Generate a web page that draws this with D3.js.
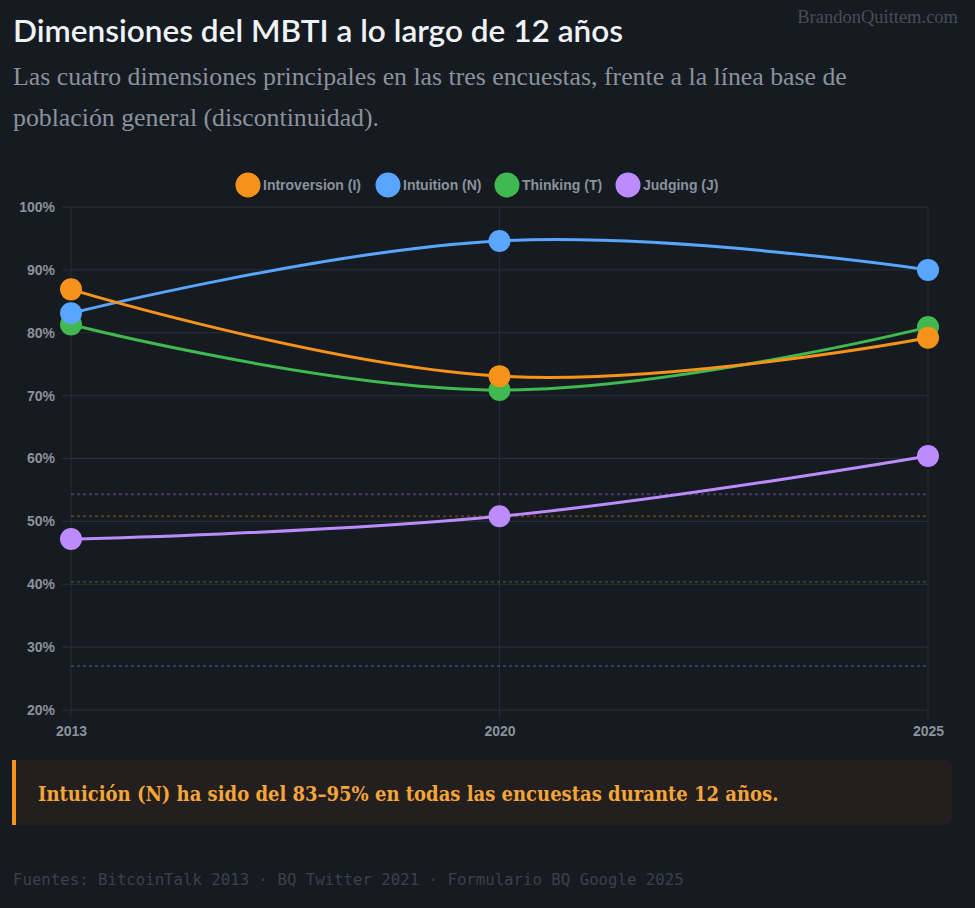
<!DOCTYPE html>
<html>
<head>
<meta charset="utf-8">
<script src="https://cdn.jsdelivr.net/npm/d3@7"></script>
<style>
  body { margin: 0; background: #161a21; }
  svg { display: block; }
</style>
</head>
<body>
<div class="chart"></div>
<script>
// categories and values
var years = ["2013", "2020", "2025"];
var seriesNames = ["Introversion (I)", "Intuition (N)", "Thinking (T)", "Judging (J)"];
var seriesColors = ["#f7931a", "#58a6ff", "#3fb950", "#bc8cff"];
var introversion = [86.9, 73.1, 79.2];
var intuition = [83.1, 94.6, 90.0];
var thinking = [81.3, 70.9, 80.9];
var judging = [47.2, 50.8, 60.4];
// general population baselines (dotted lines)
var baselines = [50.8, 27.0, 40.4, 54.3];
var yTicks = [20, 30, 40, 50, 60, 70, 80, 90, 100];

var allSeries = [introversion, intuition, thinking, judging];

var svgWidth = 975;
var svgHeight = 908;
var margin = { top: 207, left: 71, right: 47, bottom: 198 };
var width = svgWidth - margin.left - margin.right;
var height = svgHeight - margin.top - margin.bottom;

var svg = d3.select(".chart")
  .append("svg")
  .attr("width", svgWidth)
  .attr("height", svgHeight);

svg.append("rect")
  .attr("width", svgWidth)
  .attr("height", svgHeight)
  .attr("fill", "#161a21");

// header
svg.append("text")
  .attr("x", 13)
  .attr("y", 42)
  .attr("fill", "#f0f3f6")
  .attr("textLength", 610)
  .attr("lengthAdjust", "spacingAndGlyphs")
  .style("font-family", "Lato, 'Noto Sans', sans-serif")
  .style("font-weight", "600")
  .style("font-size", "30px")
  .text("Dimensiones del MBTI a lo largo de 12 años");

svg.append("text")
  .attr("x", 958)
  .attr("y", 23)
  .attr("text-anchor", "end")
  .attr("fill", "#474d56")
  .style("font-family", "'Liberation Serif', serif")
  .style("font-size", "18.5px")
  .text("BrandonQuittem.com");

var subLines = [
  "Las cuatro dimensiones principales en las tres encuestas, frente a la línea base de",
  "población general (discontinuidad)."
];
svg.selectAll(".sub")
  .data(subLines)
  .enter()
  .append("text")
  .attr("class", "sub")
  .attr("x", 13)
  .attr("y", (d, i) => 85 + i * 41)
  .attr("fill", "#8b929b")
  .style("font-family", "'Liberation Serif', serif")
  .style("font-size", "25.8px")
  .text(d => d);

var chartGroup = svg.append("g")
  .attr("transform", `translate(${margin.left}, ${margin.top})`);

// scales
var xScale = d3.scalePoint()
  .domain(years)
  .range([0, width]);

var yScale = d3.scaleLinear()
  .domain([20, 100])
  .range([height, 0]);

// grid
chartGroup.append("g")
  .selectAll("line")
  .data(yTicks)
  .enter()
  .append("line")
  .attr("x1", -9)
  .attr("x2", width)
  .attr("y1", d => yScale(d))
  .attr("y2", d => yScale(d))
  .attr("stroke", "#2b3038")
  .attr("stroke-width", 1);

chartGroup.append("g")
  .selectAll("line")
  .data(years)
  .enter()
  .append("line")
  .attr("x1", d => xScale(d))
  .attr("x2", d => xScale(d))
  .attr("y1", 0)
  .attr("y2", height + 8)
  .attr("stroke", "#262b33")
  .attr("stroke-width", 1);

// axes (labels only)
var yAxis = d3.axisLeft(yScale)
  .tickValues(yTicks)
  .tickFormat(d => d + "%")
  .tickSize(0)
  .tickPadding(16);

var xAxis = d3.axisBottom(xScale)
  .tickSize(0)
  .tickPadding(16);

chartGroup.append("g").call(yAxis)
  .call(g => g.select(".domain").remove());
chartGroup.append("g")
  .attr("transform", `translate(0, ${height})`)
  .call(xAxis)
  .call(g => g.select(".domain").remove());

chartGroup.selectAll(".tick text")
  .attr("fill", "#8b929b")
  .style("font-family", "'Liberation Sans', Arial, sans-serif")
  .style("font-weight", "700")
  .style("font-size", "14px");

// baselines
chartGroup.append("g")
  .selectAll("line")
  .data(baselines)
  .enter()
  .append("line")
  .attr("x1", 0)
  .attr("x2", width)
  .attr("y1", d => yScale(d))
  .attr("y2", d => yScale(d))
  .attr("stroke", (d, i) => seriesColors[i])
  .attr("stroke-opacity", 0.3)
  .attr("stroke-width", 2)
  .attr("stroke-dasharray", "3,3");

// lines and points, drawn so the first series ends up on top
var line = d3.line()
  .x((d, i) => xScale(years[i]))
  .y(d => yScale(d))
  .curve(d3.curveCardinal.tension(-0.2));

var order = d3.range(allSeries.length).reverse();

order.forEach(function(s) {
  chartGroup.append("path")
    .datum(allSeries[s])
    .attr("d", line)
    .attr("fill", "none")
    .attr("stroke", seriesColors[s])
    .attr("stroke-width", 3);
});

order.forEach(function(s) {
  chartGroup.append("g")
    .selectAll("circle")
    .data(allSeries[s])
    .enter()
    .append("circle")
    .attr("cx", (d, i) => xScale(years[i]))
    .attr("cy", d => yScale(d))
    .attr("r", 11)
    .attr("fill", seriesColors[s]);
});

// legend
var legendX = [248, 388, 507, 628];
var legend = svg.append("g")
  .selectAll("g")
  .data(seriesNames)
  .enter()
  .append("g")
  .attr("transform", (d, i) => `translate(${legendX[i]}, 185)`);

legend.append("circle")
  .attr("r", 12.5)
  .attr("fill", (d, i) => seriesColors[i]);

legend.append("text")
  .attr("x", 15)
  .attr("dy", "0.35em")
  .attr("fill", "#8b929b")
  .style("font-family", "'Liberation Sans', Arial, sans-serif")
  .style("font-weight", "700")
  .style("font-size", "14px")
  .text(d => d);

// callout
svg.append("path")
  .attr("d", "M12,760 H944 Q952,760 952,768 V817 Q952,825 944,825 H12 Z")
  .attr("fill", "#221f1e");
svg.append("rect")
  .attr("x", 12)
  .attr("y", 760)
  .attr("width", 4)
  .attr("height", 65)
  .attr("fill", "#f7931a");
svg.append("text")
  .attr("x", 38)
  .attr("y", 801)
  .attr("fill", "#f5a539")
  .style("font-family", "'DejaVu Serif Condensed', 'DejaVu Serif', serif")
  .style("font-weight", "700")
  .style("font-size", "20px")
  .text("Intuición (N) ha sido del 83–95% en todas las encuestas durante 12 años.");

// footer
svg.append("text")
  .attr("x", 13)
  .attr("y", 885)
  .attr("fill", "#3b4149")
  .style("font-family", "'DejaVu Sans Mono', monospace")
  .style("font-size", "15.7px")
  .text("Fuentes: BitcoinTalk 2013 · BQ Twitter 2021 · Formulario BQ Google 2025");
</script>
</body>
</html>
